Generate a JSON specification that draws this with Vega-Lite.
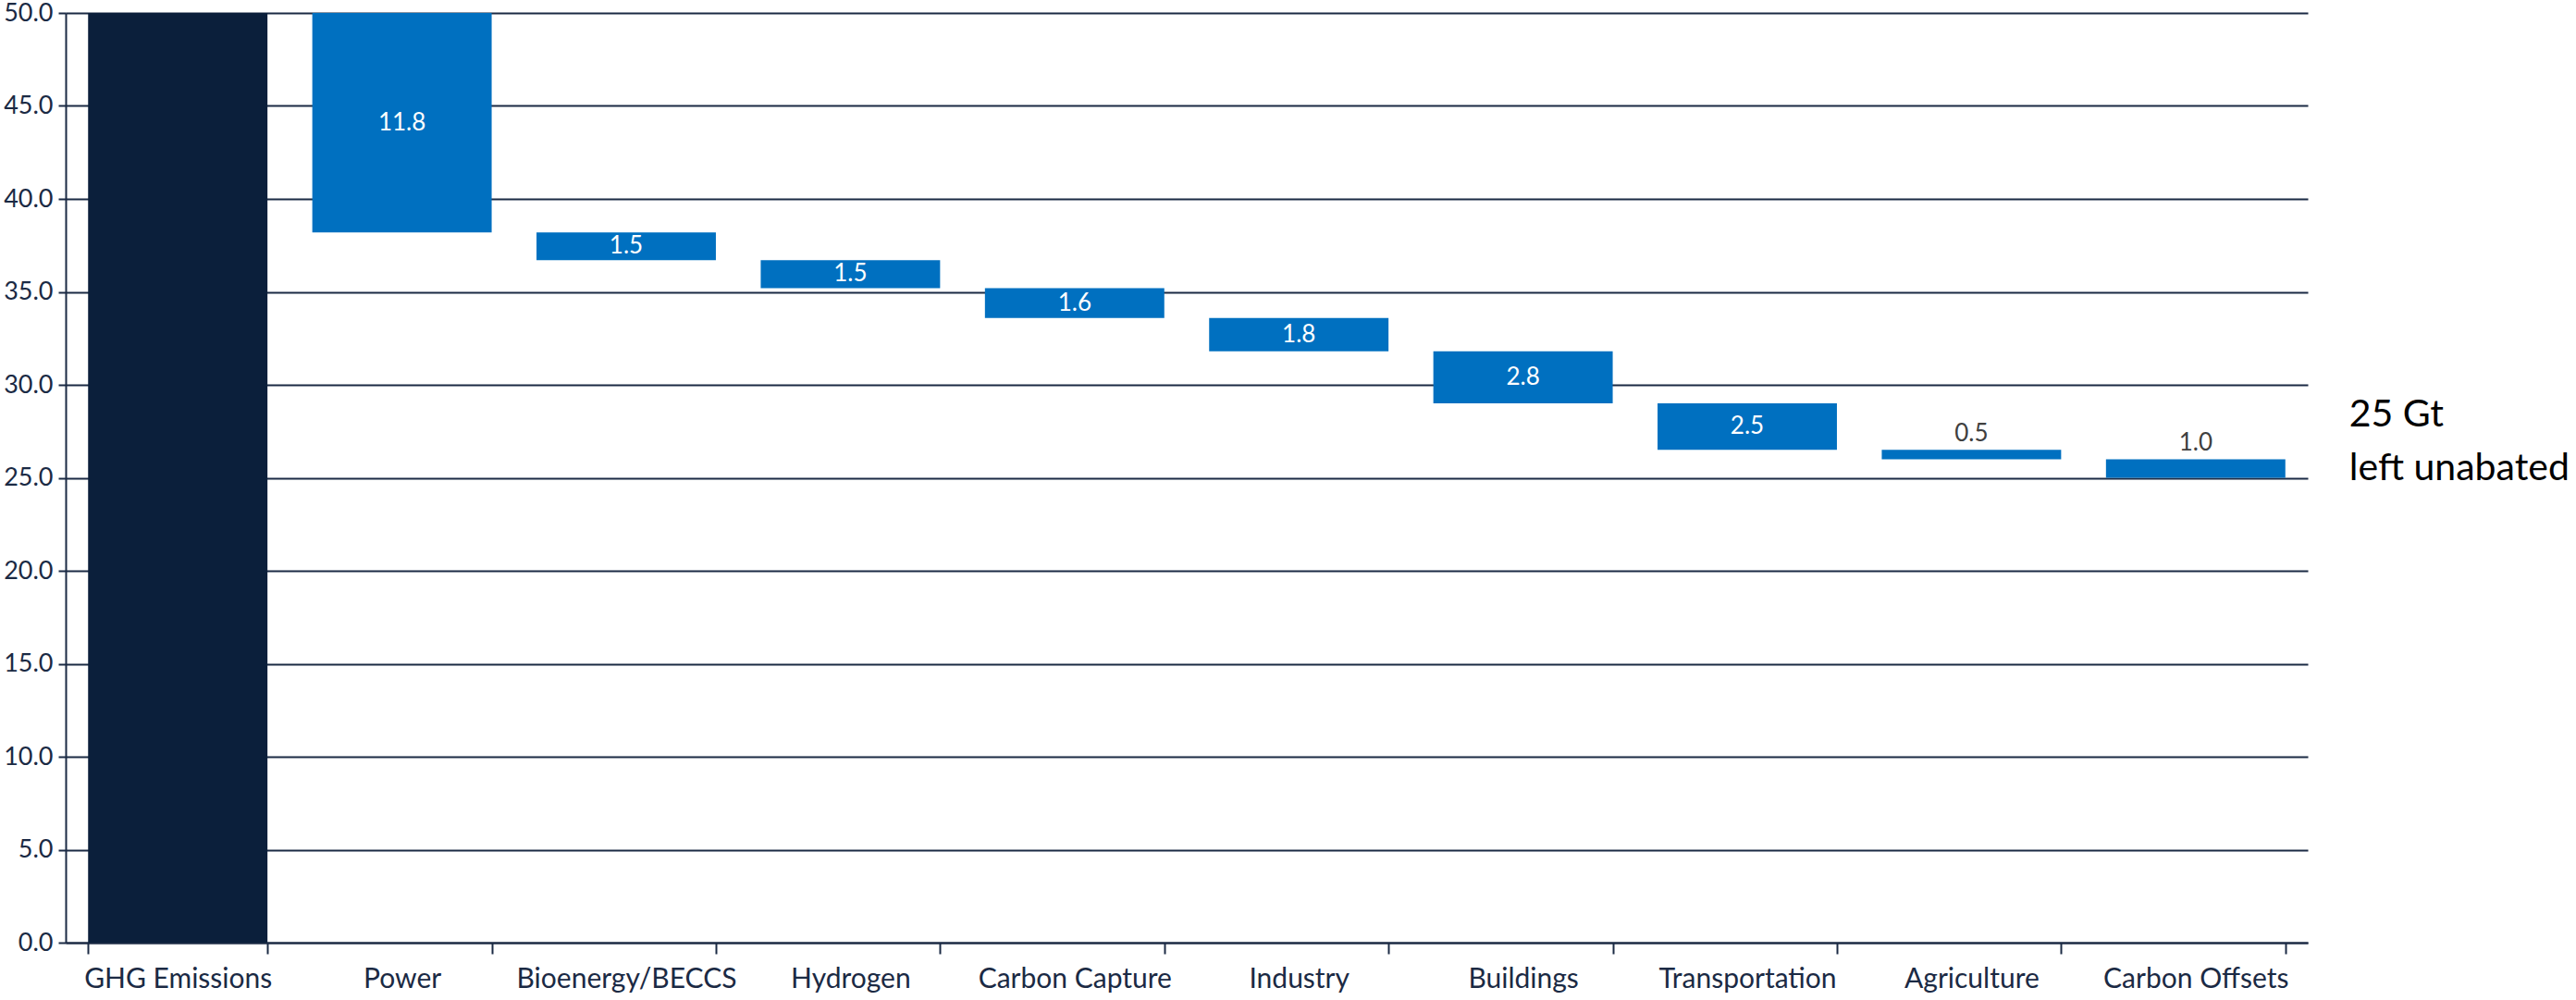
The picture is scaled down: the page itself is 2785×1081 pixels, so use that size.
{
  "$schema": "https://vega.github.io/schema/vega-lite/v6.json",
  "width": 2424,
  "height": 1005,
  "autosize": {"type": "none"},
  "padding": {"left": 71, "top": 14, "right": 290, "bottom": 62},
  "background": "#ffffff",
  "config": {
    "font": "Lato",
    "view": {"stroke": null},
    "axis": {
      "labelFont": "Lato",
      "labelColor": "#1b2a44",
      "domainColor": "#1b2a44",
      "tickColor": "#1b2a44",
      "gridColor": "#1b2a44",
      "domainWidth": 2,
      "tickWidth": 2,
      "gridWidth": 2,
      "labelLimit": 0
    }
  },
  "data": {
    "values": [
      {"category": "GHG Emissions", "from": 0, "to": 50, "value": 50, "kind": "total"},
      {"category": "Power", "from": 50, "to": 38.2, "value": 11.8, "kind": "step"},
      {"category": "Bioenergy/BECCS", "from": 38.2, "to": 36.7, "value": 1.5, "kind": "step"},
      {"category": "Hydrogen", "from": 36.7, "to": 35.2, "value": 1.5, "kind": "step"},
      {"category": "Carbon Capture", "from": 35.2, "to": 33.6, "value": 1.6, "kind": "step"},
      {"category": "Industry", "from": 33.6, "to": 31.8, "value": 1.8, "kind": "step"},
      {"category": "Buildings", "from": 31.8, "to": 29.0, "value": 2.8, "kind": "step"},
      {"category": "Transportation", "from": 29.0, "to": 26.5, "value": 2.5, "kind": "step"},
      {"category": "Agriculture", "from": 26.5, "to": 26.0, "value": 0.5, "kind": "step"},
      {"category": "Carbon Offsets", "from": 26.0, "to": 25.0, "value": 1.0, "kind": "step"}
    ]
  },
  "encoding": {
    "x": {
      "field": "category",
      "type": "nominal",
      "sort": null,
      "scale": {"paddingInner": 0.2, "paddingOuter": 0.1},
      "axis": {
        "title": null,
        "labelAngle": 0,
        "labelFontSize": 30,
        "labelPadding": 12,
        "tickBand": "extent",
        "tickSize": 12,
        "grid": false
      }
    }
  },
  "layer": [
    {
      "mark": {"type": "bar"},
      "encoding": {
        "y": {
          "field": "from",
          "type": "quantitative",
          "scale": {"domain": [0, 50], "nice": false},
          "axis": {
            "title": null,
            "values": [0, 5, 10, 15, 20, 25, 30, 35, 40, 45, 50],
            "format": ".1f",
            "labelFontSize": 27,
            "labelPadding": 6,
            "tickSize": 8,
            "grid": true
          }
        },
        "y2": {"field": "to"},
        "color": {
          "field": "kind",
          "type": "nominal",
          "scale": {"domain": ["total", "step"], "range": ["#0b1f3b", "#0070c0"]},
          "legend": null
        }
      }
    },
    {
      "transform": [
        {"filter": "datum.kind == 'step' && datum.value >= 1.5"},
        {"calculate": "(datum.from + datum.to) / 2", "as": "mid"}
      ],
      "mark": {"type": "text", "color": "#ffffff", "fontSize": 26, "baseline": "middle", "align": "center"},
      "encoding": {
        "y": {"field": "mid", "type": "quantitative"},
        "text": {"field": "value", "type": "quantitative", "format": ".1f"}
      }
    },
    {
      "transform": [{"filter": "datum.kind == 'step' && datum.value < 1.5"}],
      "mark": {"type": "text", "color": "#404040", "fontSize": 26, "baseline": "bottom", "align": "center", "dy": -4},
      "encoding": {
        "y": {"field": "from", "type": "quantitative"},
        "text": {"field": "value", "type": "quantitative", "format": ".1f"}
      }
    },
    {
      "data": {"values": [{"category": "Carbon Offsets", "left": 25, "note": ["25 Gt", "left unabated"]}]},
      "mark": {
        "type": "text",
        "color": "#000000",
        "fontSize": 41,
        "align": "left",
        "baseline": "middle",
        "lineHeight": 58,
        "dx": 166,
        "dy": -68
      },
      "encoding": {
        "y": {"field": "left", "type": "quantitative"},
        "text": {"field": "note"}
      }
    }
  ]
}
